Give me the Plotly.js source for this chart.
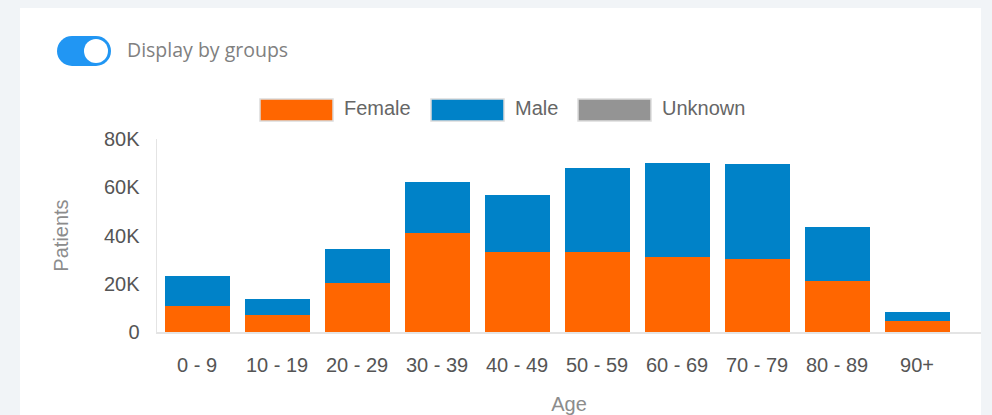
<!DOCTYPE html>
<html>
<head>
<meta charset="utf-8">
<script src="https://cdn.plot.ly/plotly-3.0.1.min.js"></script>
<style>html,body{margin:0;padding:0;background:#f1f4f7;}#chart{width:992px;height:415px;}</style>
</head>
<body>
<div id="chart"></div>
<script>
// ---- data ----
const ageGroups = ["0 - 9","10 - 19","20 - 29","30 - 39","40 - 49","50 - 59","60 - 69","70 - 79","80 - 89","90+"];
const female  = [10800, 6900, 20300, 41200, 33000, 33000, 31000, 30100, 21000, 4700];
const male    = [12500, 6800, 14200, 20800, 23800, 35000, 39200, 39400, 22400, 3700];
const unknown = [0, 0, 0, 0, 0, 0, 0, 0, 0, 0];
const seriesNames = ["Female", "Male", "Unknown"];
const seriesColors = ["#ff6600", "#0082c8", "#949494"];
const yTickVals = [0, 20000, 40000, 60000, 80000];
const yTickText = ["0", "20K", "40K", "60K", "80K"];
const toggleLabel = "Display by groups";

// ---- layout helpers (pixel -> paper) ----
const W = 992, H = 415, mL = 157, mR = 11, mT = 139, mB = 83;
const pw = W - mL - mR, ph = H - mT - mB;
const px = x => (x - mL) / pw;
const py = y => (H - mB - y) / ph;

const values = [female, male, unknown];
const traces = seriesNames.map((name, i) => ({
  type: "bar", name: name, x: ageGroups, y: values[i],
  marker: {color: seriesColors[i], line: {width: 0}},
  showlegend: false, hoverinfo: "x+y+name"
}));

const shapes = [
  // card
  {type: "rect", xref: "paper", yref: "paper", x0: px(20), x1: px(981), y0: py(8), y1: py(430),
   fillcolor: "#ffffff", line: {width: 0}, layer: "below"},
  // toggle pill
  {type: "rect", xref: "paper", yref: "paper", x0: px(72), x1: px(96), y0: py(36), y1: py(66),
   fillcolor: "#2196f3", line: {width: 0}},
  {type: "circle", xref: "paper", yref: "paper", x0: px(57), x1: px(87), y0: py(36), y1: py(66),
   fillcolor: "#2196f3", line: {width: 0}},
  {type: "circle", xref: "paper", yref: "paper", x0: px(81), x1: px(111), y0: py(36), y1: py(66),
   fillcolor: "#2196f3", line: {width: 0}},
  {type: "circle", xref: "paper", yref: "paper", x0: px(84), x1: px(108), y0: py(39), y1: py(63),
   fillcolor: "#ffffff", line: {width: 0}}
];
const annotations = [
  {xref: "paper", yref: "paper", x: px(125), y: py(50), xanchor: "left", yanchor: "middle",
   text: toggleLabel, showarrow: false, font: {family: "Open Sans, sans-serif", size: 19.5, color: "#808080"}}
];
const legendX = [260, 431, 578];
seriesNames.forEach((name, i) => {
  shapes.push({type: "rect", xref: "paper", yref: "paper", x0: px(legendX[i]), x1: px(legendX[i] + 73),
    y0: py(99), y1: py(121), fillcolor: seriesColors[i], line: {color: "#dcdcdc", width: 1.5}});
  annotations.push({xref: "paper", yref: "paper", x: px(legendX[i] + 82), y: py(108), xanchor: "left",
    yanchor: "middle", text: name, showarrow: false,
    font: {family: "Liberation Sans, Arial, sans-serif", size: 20, color: "#666666"}});
});

const layout = {
  width: W, height: H,
  margin: {l: mL, r: mR, t: mT, b: mB, pad: 0},
  paper_bgcolor: "#f1f4f7", plot_bgcolor: "rgba(0,0,0,0)",
  barmode: "stack", bargap: 0.1875,
  font: {family: "Liberation Sans, Arial, sans-serif", size: 20, color: "#555555"},
  showlegend: false,
  xaxis: {
    type: "category", range: [-0.5, 9.8], showgrid: false, zeroline: false,
    showline: true, linecolor: "#e4e4e4", linewidth: 1.5, ticks: "", ticklabelstandoff: 14,
    tickfont: {size: 20, color: "#555555"},
    title: {text: "Age", standoff: 23, font: {size: 20, color: "#8c8c8c"}}
  },
  yaxis: {
    range: [0, 80000], tickvals: yTickVals, ticktext: yTickText, showgrid: false, zeroline: false,
    showline: true, linecolor: "#e4e4e4", linewidth: 1.5, ticks: "", ticklabelstandoff: 12,
    tickfont: {size: 20, color: "#555555"},
    title: {text: "Patients", standoff: 30, font: {size: 20, color: "#8c8c8c"}}
  },
  shapes: shapes, annotations: annotations
};
Plotly.newPlot("chart", traces, layout, {displayModeBar: false, staticPlot: true});
</script>
</body>
</html>
